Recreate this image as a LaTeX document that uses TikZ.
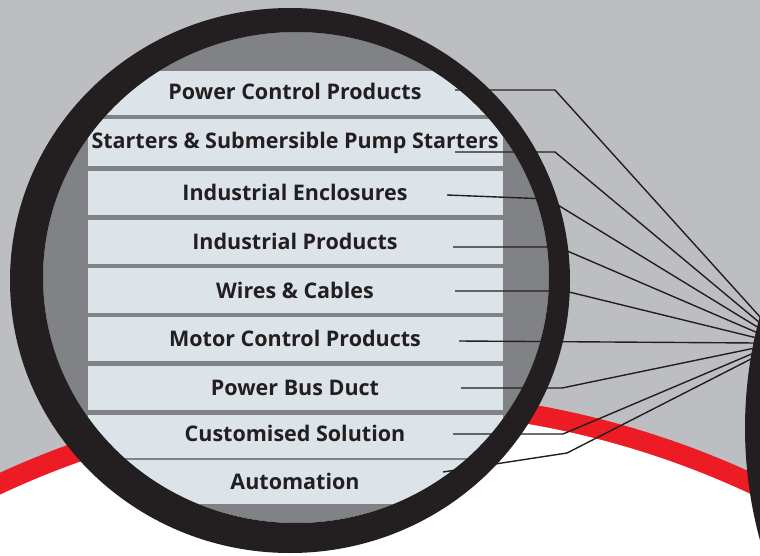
\documentclass[tikz,border=0pt]{standalone}
\usepackage{fontspec}
\setmainfont{Open Sans}
\usepackage{tikz}
\usetikzlibrary{positioning,calc}
\definecolor{cfondo}{HTML}{BCBEC1}
\definecolor{cgrisosc}{HTML}{808285}
\definecolor{cbarra}{HTML}{DCE3E9}
\definecolor{cnegro}{HTML}{231F20}
\definecolor{crojo}{HTML}{ED1C24}
\tikzset{
  barra/.style={fill=cbarra, draw=none},
  etq/.style={font=\fontsize{21.5}{25}\selectfont\bfseries, text=cnegro,
    anchor=base, inner sep=0pt},
  linea/.style={line width=1.4pt, draw=cnegro, line join=round},
  aro/.style={fill=cnegro, even odd rule},
}

\begin{document}
\begin{tikzpicture}[x=1pt,y=-1pt]
  \useasboundingbox (0,0) rectangle (760,556);
  \clip (0,0) rectangle (760,556);
  % fondo y banda roja
  \fill[cfondo] (0,0) rectangle (760,556);
  \fill[crojo] (376,1295) circle (904);
  \fill[white] (376,1295) circle (884);

  % interior de la lupa
  \begin{scope}
    \clip (296,277.5) ellipse (253 and 245.5);
    \fill[cgrisosc] (0,0) rectangle (760,556);
    \fill[barra] (88,71) rectangle (503,115);
    \fill[barra] (88,119.5) rectangle (503,166);
    \fill[barra] (88,171) rectangle (503,215);
    \fill[barra] (88,220) rectangle (503,263.5);
    \fill[barra] (88,268) rectangle (503,312.5);
    \fill[barra] (88,317) rectangle (503,361);
    \fill[barra] (88,366) rectangle (503,410);
    \fill[barra] (88,414.5) rectangle (503,458);
    \fill[barra] (88,460) rectangle (503,504);
  \end{scope}

  \node[etq] (pcp) at (295,100) {Power Control Products};
  \node[etq] (sps) at (295,149) {Starters \& Submersible Pump Starters};
  \node[etq] (ien) at (295,200.5) {Industrial Enclosures};
  \node[etq] (ipr) at (295,249.5) {Industrial Products};
  \node[etq] (wyc) at (295,298) {Wires \& Cables};
  \node[etq] (mcp) at (295,346.5) {Motor Control Products};
  \node[etq] (pbd) at (295,395) {Power Bus Duct};
  \node[etq] (csl) at (295,441.5) {Customised Solution};
  \node[etq] (aut) at (295,489) {Automation};

  % puntos de las lineas
  \coordinate (a1) at (455,90);  \coordinate (k1) at (555,90);   \coordinate (e1) at (761,318);
  \coordinate (a2) at (455,152); \coordinate (k2) at (555,152);  \coordinate (e2) at (760,323);
  \coordinate (a3) at (447,195); \coordinate (k3) at (548,199);  \coordinate (e3) at (759,328);
  \coordinate (a4) at (453,247); \coordinate (k4) at (558,247);  \coordinate (e4) at (758,333);
  \coordinate (a5) at (455,291); \coordinate (k5) at (565,291);  \coordinate (e5) at (757,338);
  \coordinate (a6) at (459,341);                                 \coordinate (e6) at (756,343);
  \coordinate (a7) at (461,388); \coordinate (k7) at (562,388);  \coordinate (e7) at (755,348);
  \coordinate (a8) at (453,434); \coordinate (k8) at (563,434);  \coordinate (e8) at (754,353);
  \coordinate (a9) at (443,472); \coordinate (k9) at (567,453);  \coordinate (e9) at (753,358);

  \draw[linea] (a1) -- (k1) -- (e1);
  \draw[linea] (a2) -- (k2) -- (e2);
  \draw[linea] (a3) -- (k3) -- (e3);
  \draw[linea] (a4) -- (k4) -- (e4);
  \draw[linea] (a5) -- (k5) -- (e5);
  \draw[linea] (a6) -- (e6);
  \draw[linea] (a7) -- (k7) -- (e7);
  \draw[linea] (a8) -- (k8) -- (e8);
  \draw[linea] (a9) -- (k9) -- (e9);

  % aros de las lupas
  \fill[aro] (290,280.5) ellipse (280 and 272.5) (296,277.5) ellipse (253 and 245.5);
  \fill[cnegro] (1170,428) circle (425);
\end{tikzpicture}
\end{document}
